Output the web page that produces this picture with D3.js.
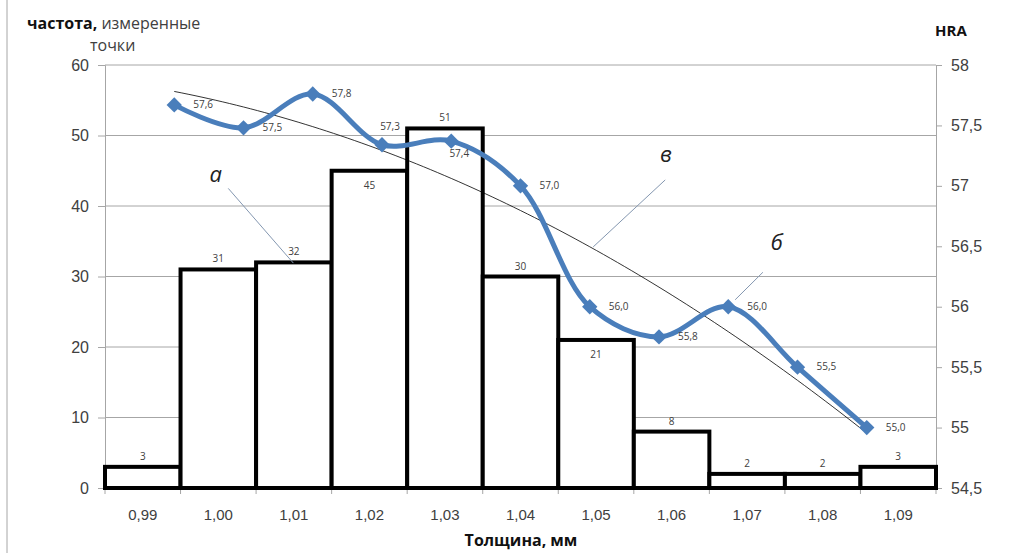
<!DOCTYPE html>
<html>
<head>
<meta charset="utf-8">
<script src="https://cdn.jsdelivr.net/npm/d3@7"></script>
<style>
  body { margin:0; background:#fff; }
  svg { font-family: "Open Sans", "Noto Sans", sans-serif; }
</style>
</head>
<body>
<svg width="1012" height="553"></svg>
<script>
// thickness classes (x axis) and counts
const cats   = ['0,99','1,00','1,01','1,02','1,03','1,04','1,05','1,06','1,07','1,08','1,09'];
const counts = [3, 31, 32, 45, 51, 30, 21, 8, 2, 2, 3];

// hardness HRA per class (line series) and its printed labels
const hra       = [57.67, 57.48, 57.76, 57.34, 57.37, 57.0, 56.0, 55.75, 56.0, 55.5, 55.0];
const hraLabels = ['57,6','57,5','57,8','57,3','57,4','57,0','56,0','55,8','56,0','55,5','55,0'];

const leftTicks  = [0, 10, 20, 30, 40, 50, 60];
const rightTicks = [54.5, 55, 55.5, 56, 56.5, 57, 57.5, 58];

// callouts (t = line index, v = left axis units)
const notes = [
  {txt:'а', t:0.60, v:43.4, from:[0.78, 42.5], to:[1.72, 31.9]},
  {txt:'в', t:7.10, v:46.2, from:[7.09, 43.7], to:[6.05, 34.2]},
  {txt:'б', t:8.70, v:33.8, from:[8.50, 30.6], to:[8.10, 26.7]}
];

const L = 105, R = 936, T = 65, B = 488;
const svg = d3.select('svg');

const xb = d3.scaleBand().domain(cats).range([L, R]);
const xl = d3.scaleLinear().domain([-1, 11]).range([L, R]);   // line series sits on its own axis
const yl = d3.scaleLinear().domain([0, 60]).range([B, T]);
const yr = d3.scaleLinear().domain([54.5, 58]).range([B, T]);
const fmt = d => String(d).replace('.', ',');

// chart area left border
svg.append('line').attr('x1', 7).attr('x2', 7).attr('y1', 0).attr('y2', 553)
  .attr('stroke', '#a6a6a6');

// gridlines
svg.append('g').selectAll('line').data(leftTicks.slice(1)).enter().append('line')
  .attr('x1', L).attr('x2', R).attr('y1', d => yl(d)).attr('y2', d => yl(d))
  .attr('stroke', '#a6a6a6').attr('stroke-width', 1);

// left axis
const ga = svg.append('g').attr('transform', `translate(${L},0)`)
  .call(d3.axisLeft(yl).tickValues(leftTicks).tickSize(7).tickPadding(9));
// right axis
const gr = svg.append('g').attr('transform', `translate(${R},0)`)
  .call(d3.axisRight(yr).tickValues(rightTicks).tickFormat(fmt).tickSize(6).tickPadding(9));
// bottom axis: ticks on band boundaries
const gb = svg.append('g').attr('transform', `translate(0,${B})`)
  .call(d3.axisBottom(xb).tickSize(0).tickPadding(21));
gb.selectAll('.bnd').data(d3.range(cats.length + 1)).enter().append('line')
  .attr('x1', i => L + i * xb.step()).attr('x2', i => L + i * xb.step())
  .attr('y1', 0).attr('y2', 6).attr('stroke', '#a6a6a6');

[ga, gr, gb].forEach(g => {
  g.select('.domain').attr('stroke', '#a6a6a6');
  g.selectAll('.tick line').attr('stroke', '#a6a6a6');
  g.selectAll('text').attr('fill', '#404040').attr('font-size', 16);
});
gb.selectAll('text').attr('font-size', 15);
gb.select('.domain').attr('d', `M${L},0H${R}`);

// histogram bars
svg.append('g').selectAll('rect').data(counts).enter().append('rect')
  .attr('x', (d, i) => xb(cats[i])).attr('width', xb.bandwidth())
  .attr('y', d => yl(d)).attr('height', d => B - yl(d))
  .attr('fill', '#fff').attr('stroke', '#000').attr('stroke-width', 4);

const inside = {3: true, 6: true};   // labels Excel put under the bar top
svg.append('g').selectAll('text').data(counts).enter().append('text')
  .attr('x', (d, i) => xb(cats[i]) + xb.bandwidth() / 2)
  .attr('y', (d, i) => inside[i] ? yl(d) + 18 : yl(d) - 7)
  .attr('text-anchor', 'middle').attr('font-size', 10).attr('fill', '#404040')
  .text(d => d);

// polynomial (2nd order) trendline through the HRA values
function polyfit2(ys) {
  const s = [0,0,0,0,0], r = [0,0,0];
  ys.forEach((y, x) => { for (let k = 0; k < 5; k++) s[k] += Math.pow(x, k);
                         for (let k = 0; k < 3; k++) r[k] += y * Math.pow(x, k); });
  const M = [[s[0],s[1],s[2],r[0]],[s[1],s[2],s[3],r[1]],[s[2],s[3],s[4],r[2]]];
  for (let i = 0; i < 3; i++) for (let j = i + 1; j < 3; j++) {
    const f = M[j][i] / M[i][i]; for (let k = i; k < 4; k++) M[j][k] -= f * M[i][k]; }
  const c = [0,0,0];
  for (let i = 2; i >= 0; i--) { let v = M[i][3]; for (let k = i + 1; k < 3; k++) v -= M[i][k] * c[k]; c[i] = v / M[i][i]; }
  return x => c[0] + c[1] * x + c[2] * x * x;
}
const trend = polyfit2(hra);
const tx = d3.range(0, 10.01, 0.1);
svg.append('path').datum(tx)
  .attr('d', d3.line().x(t => xl(t)).y(t => yr(trend(t))))
  .attr('fill', 'none').attr('stroke', '#000').attr('stroke-width', 0.8);

// callouts
const gn = svg.append('g');
notes.forEach(n => {
  gn.append('line').attr('x1', xl(n.from[0])).attr('y1', yl(n.from[1]))
    .attr('x2', xl(n.to[0])).attr('y2', yl(n.to[1]))
    .attr('stroke', '#8497b0').attr('stroke-width', 1);
  gn.append('text').attr('x', xl(n.t)).attr('y', yl(n.v)).attr('text-anchor', 'middle')
    .attr('font-size', 22).attr('font-style', 'italic').attr('fill', '#222').text(n.txt);
});

// HRA line
svg.append('path').datum(hra)
  .attr('d', d3.line().x((d, i) => xl(i)).y(d => yr(d)).curve(d3.curveCatmullRom.alpha(0.5)))
  .attr('fill', 'none').attr('stroke', '#4a7ebb').attr('stroke-width', 5);
svg.append('g').selectAll('path').data(hra).enter().append('path')
  .attr('d', d3.symbol(d3.symbolDiamond2, 150))
  .attr('transform', (d, i) => `translate(${xl(i)},${yr(d)})`)
  .attr('fill', '#4a7ebb');

const place = {3: 'top', 4: 'bottom'};
svg.append('g').selectAll('text').data(hra).enter().append('text')
  .attr('x', (d, i) => place[i] ? xl(i) + 8 : xl(i) + 19)
  .attr('y', (d, i) => place[i] === 'top' ? yr(d) - 15 : place[i] === 'bottom' ? yr(d) + 16 : yr(d) + 3)
  .attr('text-anchor', (d, i) => place[i] ? 'middle' : 'start')
  .attr('font-size', 10).attr('fill', '#404040')
  .text((d, i) => hraLabels[i]);

// axis titles
const t1 = svg.append('text').attr('x', 27).attr('y', 29).attr('font-size', 16).attr('fill', '#111');
t1.append('tspan').attr('font-weight', 'bold').text('частота,');
t1.append('tspan').attr('fill', '#404040').text(' измеренные');
svg.append('text').attr('x', 90).attr('y', 51).attr('font-size', 16).attr('fill', '#404040').text('точки');
svg.append('text').attr('x', 935).attr('y', 36).attr('font-size', 15).attr('font-weight', 'bold')
  .attr('fill', '#111').text('HRA');
svg.append('text').attr('x', 521).attr('y', 546).attr('text-anchor', 'middle').attr('font-size', 16)
  .attr('font-weight', 'bold').attr('fill', '#111').text('Толщина, мм');
</script>
</body>
</html>
